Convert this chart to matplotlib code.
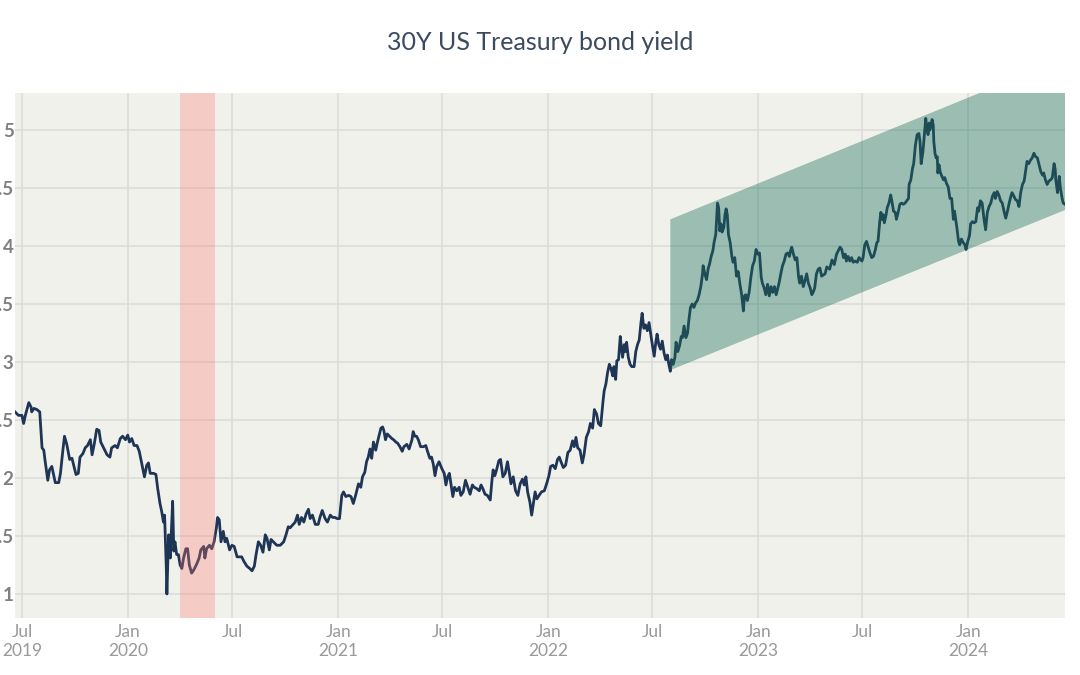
import matplotlib
matplotlib.use("Agg")
import matplotlib.pyplot as plt
import matplotlib.dates as mdates
import numpy as np
import pandas as pd

plt.rcParams['font.family'] = ['Lato', 'DejaVu Sans']

title = "30Y US Treasury bond yield"

dates = [
    "2019-06-19", "2019-06-25", "2019-07-01", "2019-07-04", "2019-07-07", "2019-07-13", "2019-07-17", "2019-07-18",
    "2019-07-22", "2019-07-27", "2019-08-01", "2019-08-05", "2019-08-08", "2019-08-10", "2019-08-15", "2019-08-18",
    "2019-08-22", "2019-08-25", "2019-08-28", "2019-09-03", "2019-09-06", "2019-09-10", "2019-09-13", "2019-09-17",
    "2019-09-22", "2019-09-26", "2019-09-29", "2019-10-03", "2019-10-07", "2019-10-10", "2019-10-15", "2019-10-19",
    "2019-10-23", "2019-10-28", "2019-10-31", "2019-11-04", "2019-11-08", "2019-11-12", "2019-11-15", "2019-11-20",
    "2019-11-26", "2019-12-01", "2019-12-04", "2019-12-10", "2019-12-14", "2019-12-19", "2019-12-23", "2019-12-28",
    "2020-01-01", "2020-01-04", "2020-01-08", "2020-01-12", "2020-01-17", "2020-01-21", "2020-01-26", "2020-01-30",
    "2020-02-03", "2020-02-06", "2020-02-09", "2020-02-15", "2020-02-19", "2020-02-22", "2020-02-26", "2020-02-29",
    "2020-03-03", "2020-03-05", "2020-03-08", "2020-03-09", "2020-03-12", "2020-03-15", "2020-03-16", "2020-03-19",
    "2020-03-21", "2020-03-23", "2020-03-26", "2020-03-29", "2020-04-01", "2020-04-04", "2020-04-07", "2020-04-11",
    "2020-04-14", "2020-04-17", "2020-04-21", "2020-04-25", "2020-04-30", "2020-05-04", "2020-05-07", "2020-05-12",
    "2020-05-14", "2020-05-17", "2020-05-22", "2020-05-26", "2020-05-30", "2020-06-03", "2020-06-05", "2020-06-08",
    "2020-06-11", "2020-06-15", "2020-06-18", "2020-06-21", "2020-06-26", "2020-06-30", "2020-07-04", "2020-07-09",
    "2020-07-13", "2020-07-17", "2020-07-21", "2020-07-26", "2020-07-31", "2020-08-04", "2020-08-08", "2020-08-11",
    "2020-08-15", "2020-08-19", "2020-08-23", "2020-08-27", "2020-08-30", "2020-09-03", "2020-09-06", "2020-09-10",
    "2020-09-16", "2020-09-22", "2020-09-28", "2020-10-02", "2020-10-06", "2020-10-09",
    "2020-10-18", "2020-10-22", "2020-10-25", "2020-10-29", "2020-11-02", "2020-11-06", "2020-11-10", "2020-11-13",
    "2020-11-17", "2020-11-22", "2020-11-27", "2020-11-30", "2020-12-04", "2020-12-09", "2020-12-13", "2020-12-18",
    "2020-12-22", "2020-12-26", "2020-12-30", "2021-01-03", "2021-01-07", "2021-01-10", "2021-01-14", "2021-01-19",
    "2021-01-23", "2021-01-27", "2021-01-31", "2021-02-05", "2021-02-09", "2021-02-12", "2021-02-16", "2021-02-19",
    "2021-02-22", "2021-02-25", "2021-02-28", "2021-03-03", "2021-03-07", "2021-03-10", "2021-03-13", "2021-03-16",
    "2021-03-19", "2021-03-21", "2021-03-24", "2021-03-27", "2021-03-31", "2021-04-04", "2021-04-07", "2021-04-11",
    "2021-04-14", "2021-04-18", "2021-04-22", "2021-04-25", "2021-04-30", "2021-05-04", "2021-05-09", "2021-05-11",
    "2021-05-14", "2021-05-17", "2021-05-20", "2021-05-24", "2021-05-29", "2021-06-02", "2021-06-05", "2021-06-09",
    "2021-06-12", "2021-06-15", "2021-06-18", "2021-06-21", "2021-06-25", "2021-06-30", "2021-07-04", "2021-07-07",
    "2021-07-10", "2021-07-13", "2021-07-16", "2021-07-19", "2021-07-22", "2021-07-26", "2021-07-30", "2021-08-02",
    "2021-08-06", "2021-08-10", "2021-08-14", "2021-08-18", "2021-08-22", "2021-08-25", "2021-08-29", "2021-09-03",
    "2021-09-06", "2021-09-09", "2021-09-13", "2021-09-17", "2021-09-22", "2021-09-25", "2021-09-27", "2021-09-30",
    "2021-10-03", "2021-10-07", "2021-10-10", "2021-10-14", "2021-10-18", "2021-10-22", "2021-10-25", "2021-10-28",
    "2021-11-01", "2021-11-05", "2021-11-09", "2021-11-13", "2021-11-17", "2021-11-20", "2021-11-23", "2021-11-26",
    "2021-11-30", "2021-12-03", "2021-12-06", "2021-12-09", "2021-12-12", "2021-12-16", "2021-12-20", "2021-12-25",
    "2021-12-29", "2022-01-02", "2022-01-05", "2022-01-09", "2022-01-13", "2022-01-17", "2022-01-20",
    "2022-01-23", "2022-01-27", "2022-01-31", "2022-02-04", "2022-02-08", "2022-02-12", "2022-02-15", "2022-02-18",
    "2022-02-21", "2022-02-25", "2022-03-01", "2022-03-04", "2022-03-08", "2022-03-12", "2022-03-15", "2022-03-19",
    "2022-03-22", "2022-03-26", "2022-03-29", "2022-04-02", "2022-04-06", "2022-04-08", "2022-04-11", "2022-04-14",
    "2022-04-17", "2022-04-20", "2022-04-23", "2022-04-25", "2022-04-28", "2022-04-30", "2022-05-03", "2022-05-06",
    "2022-05-07", "2022-05-10", "2022-05-13", "2022-05-15", "2022-05-17", "2022-05-20", "2022-05-23", "2022-05-26",
    "2022-05-30", "2022-06-02", "2022-06-05", "2022-06-08", "2022-06-11", "2022-06-13", "2022-06-16", "2022-06-19",
    "2022-06-22", "2022-06-25", "2022-06-28", "2022-07-01", "2022-07-04", "2022-07-07", "2022-07-09", "2022-07-12",
    "2022-07-15", "2022-07-18", "2022-07-21", "2022-07-24", "2022-07-27", "2022-07-29", "2022-08-01", "2022-08-03",
    "2022-08-06", "2022-08-09", "2022-08-11", "2022-08-14", "2022-08-17", "2022-08-20", "2022-08-22", "2022-08-25",
    "2022-08-28", "2022-08-31", "2022-09-02", "2022-09-05", "2022-09-08", "2022-09-11", "2022-09-14", "2022-09-17",
    "2022-09-20", "2022-09-23", "2022-09-26", "2022-09-27", "2022-09-30", "2022-10-03", "2022-10-06", "2022-10-08",
    "2022-10-11", "2022-10-14", "2022-10-16", "2022-10-19", "2022-10-21", "2022-10-22", "2022-10-24", "2022-10-26",
    "2022-10-28", "2022-10-30", "2022-11-02", "2022-11-04", "2022-11-06", "2022-11-08", "2022-11-10", "2022-11-13",
    "2022-11-16", "2022-11-18", "2022-11-21", "2022-11-24", "2022-11-27", "2022-11-30", "2022-12-03", "2022-12-06",
    "2022-12-08", "2022-12-10", "2022-12-13", "2022-12-16", "2022-12-19", "2022-12-22", "2022-12-25", "2022-12-28",
    "2022-12-31", "2023-01-03", "2023-01-06", "2023-01-08", "2023-01-11", "2023-01-14", "2023-01-17", "2023-01-20",
    "2023-01-23", "2023-01-26", "2023-01-29", "2023-02-01", "2023-02-04", "2023-02-06", "2023-02-09", "2023-02-12",
    "2023-02-15", "2023-02-18", "2023-02-21", "2023-02-24", "2023-02-26", "2023-02-28", "2023-03-03", "2023-03-06",
    "2023-03-09", "2023-03-12", "2023-03-14", "2023-03-17", "2023-03-20", "2023-03-23", "2023-03-26", "2023-03-29",
    "2023-04-01", "2023-04-04", "2023-04-07", "2023-04-09", "2023-04-12", "2023-04-15", "2023-04-18",
    "2023-04-21", "2023-04-27", "2023-04-30", "2023-05-05", "2023-05-09", "2023-05-13",
    "2023-05-17", "2023-05-23", "2023-05-26", "2023-05-29", "2023-06-01", "2023-06-03", "2023-06-06", "2023-06-09",
    "2023-06-12", "2023-06-15", "2023-06-18", "2023-06-22", "2023-06-25", "2023-06-30", "2023-07-02", "2023-07-05",
    "2023-07-08", "2023-07-11", "2023-07-14", "2023-07-17", "2023-07-20", "2023-07-23", "2023-07-26", "2023-07-28",
    "2023-07-31", "2023-08-02", "2023-08-04", "2023-08-06", "2023-08-08", "2023-08-11", "2023-08-13", "2023-08-16",
    "2023-08-19", "2023-08-21", "2023-08-24", "2023-08-27", "2023-08-29", "2023-09-01", "2023-09-04", "2023-09-07",
    "2023-09-10", "2023-09-13", "2023-09-16", "2023-09-19", "2023-09-20", "2023-09-23", "2023-09-26", "2023-09-28",
    "2023-10-01", "2023-10-04", "2023-10-07", "2023-10-09", "2023-10-11", "2023-10-14", "2023-10-16", "2023-10-18",
    "2023-10-19", "2023-10-21", "2023-10-23", "2023-10-25", "2023-10-26", "2023-10-28", "2023-10-30", "2023-11-01",
    "2023-11-02", "2023-11-04", "2023-11-06", "2023-11-08", "2023-11-09", "2023-11-11", "2023-11-13", "2023-11-16",
    "2023-11-19", "2023-11-21", "2023-11-24", "2023-11-27", "2023-11-30", "2023-12-03", "2023-12-06", "2023-12-08",
    "2023-12-10", "2023-12-12", "2023-12-15", "2023-12-17", "2023-12-20", "2023-12-23", "2023-12-26", "2023-12-28",
    "2023-12-31", "2024-01-03", "2024-01-05", "2024-01-08", "2024-01-11", "2024-01-14", "2024-01-17", "2024-01-19",
    "2024-01-22", "2024-01-25", "2024-01-28", "2024-01-31", "2024-02-03", "2024-02-06", "2024-02-09", "2024-02-12",
    "2024-02-15", "2024-02-17", "2024-02-20", "2024-02-23", "2024-02-26", "2024-02-29", "2024-03-03", "2024-03-06",
    "2024-03-09", "2024-03-12", "2024-03-15", "2024-03-17", "2024-03-20", "2024-03-23", "2024-03-26", "2024-03-29",
    "2024-04-01", "2024-04-04", "2024-04-07", "2024-04-10", "2024-04-12", "2024-04-15", "2024-04-18", "2024-04-21",
    "2024-04-24", "2024-04-27", "2024-04-30", "2024-05-03", "2024-05-06", "2024-05-09", "2024-05-11", "2024-05-14",
    "2024-05-17", "2024-05-20", "2024-05-23", "2024-05-26", "2024-05-29", "2024-05-31", "2024-06-01", "2024-06-04",
    "2024-06-05", "2024-06-07", "2024-06-09", "2024-06-12", "2024-06-14", "2024-06-17",
]

yields = [
    2.57, 2.54, 2.54, 2.47, 2.54, 2.65, 2.61, 2.57,
    2.60, 2.59, 2.57, 2.26, 2.24, 2.16, 1.98, 2.07,
    2.10, 2.03, 1.96, 1.96, 2.04, 2.23, 2.36, 2.29,
    2.16, 2.17, 2.11, 2.03, 2.04, 2.18, 2.21, 2.26,
    2.28, 2.33, 2.20, 2.30, 2.42, 2.41, 2.31, 2.26,
    2.20, 2.18, 2.26, 2.28, 2.26, 2.34, 2.36, 2.33,
    2.37, 2.31, 2.34, 2.28, 2.28, 2.23, 2.11, 2.01,
    2.11, 2.13, 2.04, 2.04, 2.03, 1.91, 1.78, 1.71,
    1.62, 1.68, 1.22, 1.00, 1.51, 1.31, 1.45, 1.80,
    1.37, 1.45, 1.34, 1.34, 1.25, 1.22, 1.31, 1.39,
    1.39, 1.25, 1.18, 1.21, 1.26, 1.31, 1.38, 1.41,
    1.31, 1.39, 1.42, 1.39, 1.45, 1.57, 1.66, 1.64,
    1.45, 1.54, 1.45, 1.48, 1.38, 1.42, 1.41, 1.32,
    1.32, 1.32, 1.28, 1.24, 1.22, 1.20, 1.24, 1.34,
    1.45, 1.42, 1.36, 1.51, 1.48, 1.38, 1.47, 1.45,
    1.42, 1.42, 1.45, 1.51, 1.58, 1.57,
    1.62, 1.68, 1.60, 1.66, 1.62, 1.69, 1.73, 1.65,
    1.68, 1.60, 1.60, 1.66, 1.72, 1.65, 1.62, 1.68,
    1.66, 1.66, 1.65, 1.65, 1.85, 1.88, 1.84, 1.85,
    1.84, 1.78, 1.85, 1.95, 1.92, 2.01, 2.05, 2.14,
    2.18, 2.25, 2.17, 2.31, 2.24, 2.31, 2.37, 2.43,
    2.44, 2.41, 2.33, 2.38, 2.36, 2.34, 2.33, 2.31,
    2.30, 2.27, 2.23, 2.27, 2.29, 2.25, 2.33, 2.40,
    2.36, 2.36, 2.33, 2.27, 2.27, 2.28, 2.23, 2.17,
    2.18, 2.12, 2.02, 2.10, 2.14, 2.08, 2.04, 1.94,
    2.01, 2.04, 1.94, 1.84, 1.92, 1.89, 1.92, 1.85,
    1.88, 1.98, 1.92, 1.86, 1.94, 1.92, 1.91, 1.89,
    1.94, 1.91, 1.86, 1.85, 1.81, 1.98, 2.07, 2.02,
    2.07, 2.15, 2.16, 2.01, 2.04, 2.14, 2.05, 1.95,
    2.01, 1.89, 1.85, 1.95, 1.99, 1.94, 2.01, 1.88,
    1.79, 1.68, 1.78, 1.88, 1.82, 1.85, 1.88, 1.89,
    1.95, 2.02, 2.10, 2.11, 2.08, 2.16, 2.18,
    2.14, 2.09, 2.11, 2.22, 2.24, 2.32, 2.27, 2.35,
    2.26, 2.24, 2.13, 2.20, 2.35, 2.40, 2.47, 2.43,
    2.59, 2.55, 2.47, 2.45, 2.66, 2.75, 2.81, 2.91,
    2.98, 2.94, 2.88, 2.96, 2.85, 3.01, 3.02, 3.22,
    3.17, 3.04, 3.15, 3.09, 3.17, 3.04, 2.98, 2.96,
    2.96, 3.09, 3.15, 3.19, 3.34, 3.42, 3.29, 3.32,
    3.27, 3.34, 3.24, 3.14, 3.05, 3.18, 3.24, 3.15,
    3.11, 3.18, 3.08, 3.02, 3.06, 2.99, 2.92, 3.02,
    2.98, 3.04, 3.17, 3.09, 3.14, 3.22, 3.21, 3.31,
    3.21, 3.25, 3.35, 3.47, 3.50, 3.47, 3.51, 3.53,
    3.58, 3.65, 3.76, 3.83, 3.76, 3.71, 3.81, 3.84,
    3.91, 3.96, 4.03, 4.10, 4.29, 4.37, 4.33, 4.13,
    4.19, 4.12, 4.16, 4.27, 4.32, 4.27, 4.10, 4.03,
    3.91, 3.86, 3.90, 3.74, 3.78, 3.67, 3.58, 3.44,
    3.57, 3.58, 3.53, 3.60, 3.73, 3.83, 3.87, 3.97,
    3.93, 3.94, 3.73, 3.68, 3.64, 3.58, 3.67, 3.57,
    3.65, 3.60, 3.65, 3.58, 3.64, 3.68, 3.76, 3.83,
    3.87, 3.93, 3.94, 3.91, 3.96, 3.99, 3.93, 3.88,
    3.90, 3.73, 3.68, 3.74, 3.65, 3.70, 3.76, 3.68,
    3.64, 3.58, 3.61, 3.64, 3.76, 3.80, 3.81,
    3.74, 3.76, 3.82, 3.80, 3.88, 3.84,
    3.93, 3.99, 3.97, 3.90, 3.93, 3.87, 3.91, 3.87,
    3.90, 3.86, 3.87, 3.86, 3.90, 3.87, 3.90, 4.01,
    4.04, 3.99, 3.94, 3.90, 3.91, 3.96, 4.03, 4.04,
    4.21, 4.29, 4.23, 4.27, 4.20, 4.27, 4.33, 4.37,
    4.44, 4.39, 4.30, 4.29, 4.23, 4.29, 4.36, 4.37,
    4.36, 4.37, 4.39, 4.41, 4.53, 4.57, 4.67, 4.71,
    4.87, 4.96, 4.97, 4.90, 4.71, 4.81, 4.93, 5.06,
    5.10, 5.01, 4.96, 5.06, 5.00, 5.03, 5.09, 5.04,
    4.90, 4.80, 4.76, 4.77, 4.63, 4.70, 4.64, 4.60,
    4.57, 4.59, 4.54, 4.51, 4.41, 4.41, 4.23, 4.30,
    4.23, 4.16, 4.04, 4.01, 4.06, 4.03, 4.01, 3.97,
    4.04, 4.09, 4.19, 4.21, 4.20, 4.21, 4.33, 4.30,
    4.39, 4.37, 4.24, 4.14, 4.29, 4.34, 4.37, 4.43,
    4.46, 4.41, 4.47, 4.44, 4.39, 4.37, 4.30, 4.24,
    4.30, 4.37, 4.43, 4.46, 4.43, 4.40, 4.39, 4.34,
    4.46, 4.53, 4.56, 4.66, 4.73, 4.71, 4.74, 4.76,
    4.80, 4.77, 4.76, 4.70, 4.64, 4.61, 4.63, 4.57,
    4.53, 4.56, 4.57, 4.59, 4.71, 4.66, 4.57, 4.46,
    4.50, 4.60, 4.50, 4.41, 4.37, 4.36,
]

# Highlighted band
band_start = "2020-04-01"
band_end = "2020-05-31"

# Rising channel (start / end dates with lower & upper bounds)
channel_dates = ["2022-08-01", "2024-06-17"]
channel_lower = [2.93, 4.31]
channel_upper = [4.23, 5.62]

xtick_dates = ["2019-07-01", "2020-01-01", "2020-07-01", "2021-01-01", "2021-07-01",
               "2022-01-01", "2022-07-01", "2023-01-01", "2023-07-01", "2024-01-01"]
xtick_labels = ["Jul\n2019", "Jan\n2020", "Jul", "Jan\n2021", "Jul",
                "Jan\n2022", "Jul", "Jan\n2023", "Jul", "Jan\n2024"]
ytick_values = [1, 1.5, 2, 2.5, 3, 3.5, 4, 4.5, 5]
ytick_labels = ["1", "1.5", "2", "2.5", "3", "3.5", "4", "4.5", "5"]

fig = plt.figure(figsize=(10.8, 6.75), dpi=100)
fig.patch.set_facecolor("white")
ax = fig.add_axes([15 / 1080, 57 / 675, 1050 / 1080, 525 / 675])
ax.set_facecolor("#f1f1ec")

d = pd.to_datetime(dates)
ax.plot(d, yields, color="#1f3556", lw=2.0, zorder=3, solid_joinstyle="round")

ax.axvspan(pd.Timestamp(band_start), pd.Timestamp(band_end),
           color="#fb766d", alpha=0.3, lw=0, zorder=4)

cx = mdates.date2num(pd.to_datetime(channel_dates))
ax.fill([cx[0], cx[1], cx[1], cx[0]],
        [channel_lower[0], channel_lower[1], channel_upper[1], channel_upper[0]],
        color="#1a715b", alpha=0.4, lw=0, zorder=4)

ax.set_xlim(pd.Timestamp("2019-06-19"), pd.Timestamp("2024-06-17"))
ax.set_ylim(0.793, 5.319)

ax.set_xticks(pd.to_datetime(xtick_dates))
ax.set_xticklabels(xtick_labels, fontsize=12.5, color="#999999",
                   fontweight="normal", linespacing=1.3)
ax.set_yticks(ytick_values)
ax.set_yticklabels(ytick_labels, fontsize=13.5, color="#808080", fontweight="bold")

ax.grid(True, color="#dadada", lw=1.1)
ax.set_axisbelow(True)
for s in ax.spines.values():
    s.set_visible(False)
ax.tick_params(axis="both", length=0)
ax.tick_params(axis="y", pad=1)
ax.tick_params(axis="x", pad=4)

fig.text(0.5, 1 - 43 / 675, title, ha="center", va="center",
         fontsize=18, color="#3b4a5e")

fig.savefig("out.png", dpi=100)
